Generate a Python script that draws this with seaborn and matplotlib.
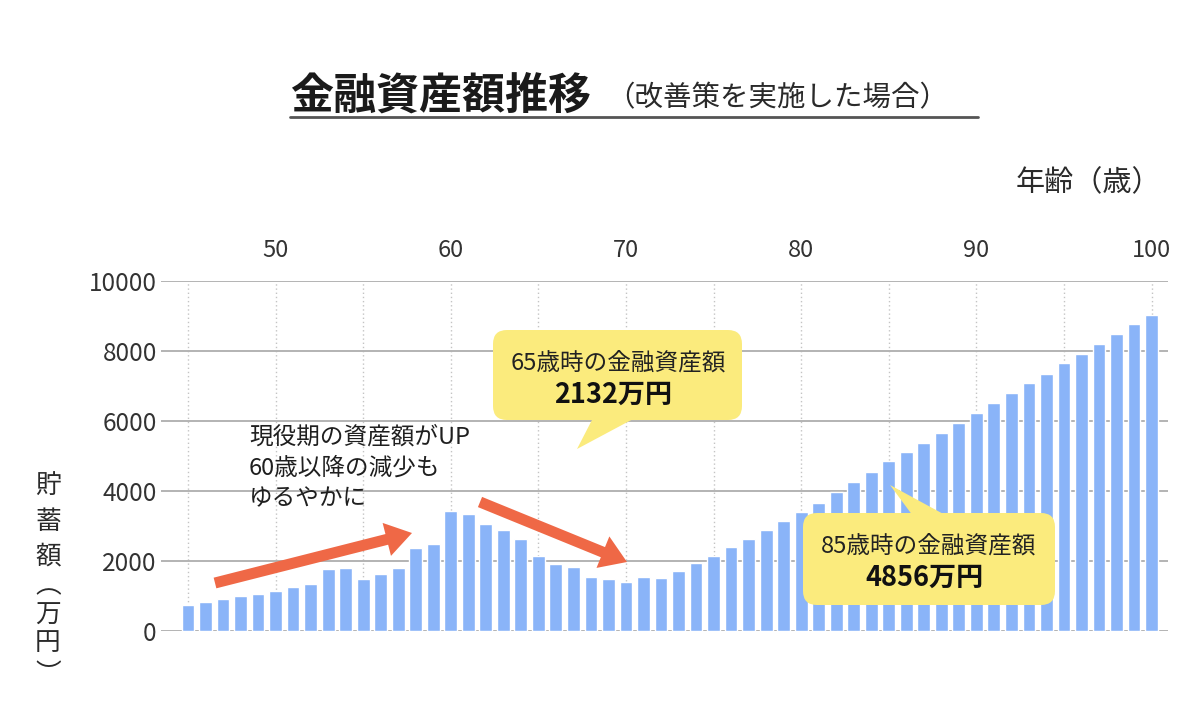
import numpy as np
import pandas as pd
import matplotlib
matplotlib.use("Agg")
import matplotlib.pyplot as plt
import seaborn as sns
from matplotlib.patches import FancyBboxPatch, Polygon, FancyArrow
from matplotlib.lines import Line2D
from matplotlib.ticker import MultipleLocator

# ---- data ----
ages = list(range(45, 101))
savings = [750, 820, 910, 990, 1070, 1140, 1250, 1350, 1770, 1810,
           1500, 1630, 1810, 2360, 2500, 3440, 3330, 3070, 2890, 2640,
           2132, 1910, 1830, 1550, 1490, 1390, 1550, 1510, 1720, 1940,
           2140, 2390, 2640, 2890, 3140, 3400, 3670, 3970, 4260, 4530,
           4856, 5100, 5380, 5660, 5930, 6220, 6500, 6790, 7090, 7350,
           7650, 7910, 8210, 8490, 8770, 9040]
y_ticks = [0, 2000, 4000, 6000, 8000, 10000]
x_ticks = [50, 60, 70, 80, 90, 100]

title_main = "金融資産額推移"
title_sub = "（改善策を実施した場合）"
x_label = "年齢（歳）"
y_label_chars = ["貯", "蓄", "額", "︵", "万", "円", "︶"]
note_text = "現役期の資産額がUP\n60歳以降の減少も\nゆるやかに"
call1 = ("65歳時の金融資産額", "2132万円")
call2 = ("85歳時の金融資産額", "4856万円")

sns.set_theme(style="white")
plt.rcParams['font.family'] = ['Noto Sans CJK JP', 'DejaVu Sans']

W, H = 1200, 725
fig = plt.figure(figsize=(12, 7.25), dpi=100)
fig.patch.set_facecolor("white")

def fx(px):
    return px / W

def fy(py):
    return 1 - py / H

ax = fig.add_axes([fx(161), fy(631), (1168 - 161) / W, (631 - 281) / H])
df = pd.DataFrame({"age": ages, "value": savings})
sns.barplot(data=df, x="age", y="value", native_scale=True, width=0.73,
            color="#8ab4f8", saturation=1, ax=ax, zorder=3)

ax.set_xlim(43.46, 100.94)
ax.set_ylim(0, 10000)
ax.set_xlabel("")
ax.set_ylabel("")
for s in ax.spines.values():
    s.set_visible(False)

ax.xaxis.tick_top()
ax.set_xticks(x_ticks)
ax.set_xticklabels([str(t) for t in x_ticks])
ax.xaxis.set_minor_locator(MultipleLocator(5))
ax.set_yticks(y_ticks)
ax.set_yticklabels([str(t) for t in y_ticks])
ax.tick_params(axis="x", which="both", length=0, pad=14, labelsize=17, labelcolor="#333333")
ax.tick_params(axis="y", length=0, pad=3, labelsize=17.5, labelcolor="#333333")
ax.set_axisbelow(True)
ax.grid(False)
ax.yaxis.grid(True, color="#b3b3b3", lw=1.4, ls="-")
ax.xaxis.grid(True, which="both", color="#c4c4c4", lw=1.0, ls=(0, (1, 2)))

# ---- overlay for annotations (pixel coordinates) ----
ov = fig.add_axes([0, 0, 1, 1], zorder=10)
ov.set_xlim(0, W)
ov.set_ylim(H, 0)
ov.axis("off")
ov.patch.set_alpha(0)

# title
ov.text(290, 96, title_main, fontsize=31, fontweight="bold", va="center", ha="left", color="#1a1a1a")
ov.text(606, 98, title_sub, fontsize=20.5, va="center", ha="left", color="#2a2a2a")
ov.add_line(Line2D([290, 978], [117, 117], color="#555555", lw=2))

# axis labels
ov.text(1016, 183, x_label, fontsize=21, va="center", ha="left", color="#2a2a2a")
for ch, yy in zip(y_label_chars, [487, 522, 557, 586, 616, 643, 675]):
    ov.text(48, yy, ch, fontsize=18.5, va="center", ha="center", color="#2a2a2a")

# arrows
arrow_col = "#ef6846"
ov.add_patch(FancyArrow(215, 583, 412 - 215, 533 - 583, width=11, head_width=34,
                        head_length=26, length_includes_head=True, color=arrow_col, lw=0))
ov.add_patch(FancyArrow(480, 502, 627 - 480, 562 - 502, width=11, head_width=34,
                        head_length=26, length_includes_head=True, color=arrow_col, lw=0))

# note
ov.text(249, 426, note_text, fontsize=17, va="top", ha="left", color="#1f1f1f", linespacing=1.42)

# callouts
yel = "#fbeb7d"
def callout(x0, y0, x1, y1, tail, lines, cx):
    ov.add_patch(FancyBboxPatch((x0, y0), x1 - x0, y1 - y0,
                                boxstyle="round,pad=0,rounding_size=14",
                                fc=yel, ec="none"))
    ov.add_patch(Polygon(tail, closed=True, fc=yel, ec="none"))
    ov.text(cx, y0 + 33, lines[0], fontsize=17, ha="center", va="center", color="#222222")
    ov.text(cx - 5, y0 + 65, lines[1], fontsize=19.5, fontweight="bold", ha="center", va="center", color="#111111")

callout(493, 330, 742, 420, [(593, 418), (635, 418), (577, 449)], call1, 618)
callout(803, 513, 1055, 605, [(913, 516), (947, 516), (890, 485)], call2, 929)

fig.savefig("out.png", dpi=100)
